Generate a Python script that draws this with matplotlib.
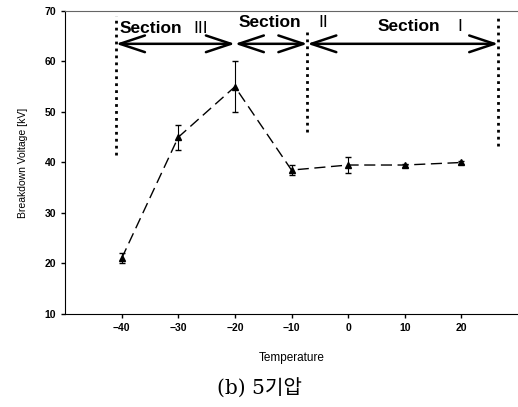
import numpy as np
import matplotlib.pyplot as plt

# temperatures and breakdown voltages
temps = [-40, -30, -20, -10, 0, 10, 20]
voltage = [21, 45, 55, 38.5, 39.5, 39.5, 40]
err = [1, 2.5, 5, 1, 1.5, 0.3, 0.3]

# section boundaries (temperature) and arrow level
bounds = [-41, -20, -7.2, 26.5]
arrow_y = 63.5
dot_ranges = [(41.5, 69), (46, 66), (43.3, 69)]
numerals = ["III", "II", "I"]
# label positions: (x of "Section", x of numeral, y)
label_pos = [(-40.4, -27.3, 66.6), (-19.4, -5.3, 67.8), (5.2, 19.3, 67.0)]

plt.rcParams['font.family'] = ['Liberation Sans', 'DejaVu Sans']

fig = plt.figure(figsize=(5.18, 4.07), dpi=100)
ax = fig.add_axes([0.1255, 0.2285, 0.8745, 0.7445])

ax.errorbar(temps, voltage, yerr=err, color='black', marker='^', markersize=5,
            linestyle=(0, (8, 4)), linewidth=1, capsize=2.5, elinewidth=0.8)

# dotted section borders
for x, (y0, y1) in zip([bounds[0], bounds[2], bounds[3]], dot_ranges):
    ax.plot([x, x], [y0, y1], color='black', linestyle=(0, (1, 1.5)), linewidth=2)

# double arrows for each section
for i in range(3):
    ax.annotate('', xy=(bounds[i + 1], arrow_y), xytext=(bounds[i], arrow_y),
                arrowprops=dict(arrowstyle='<->,head_length=1.8,head_width=0.6',
                                color='black', lw=1.8, mutation_scale=10,
                                shrinkA=0, shrinkB=0))

for num, (xs, xn, y) in zip(numerals, label_pos):
    ax.text(xs, y, "Section", fontsize=12.5, fontweight='bold', va='center')
    ax.text(xn, y, num, fontsize=12.5, va='center')

ax.set_xlim(-50, 30)
ax.set_ylim(10, 70)
ax.set_xticks(temps)
ax.set_yticks(range(10, 71, 10))
ax.tick_params(labelsize=7.5, length=3, width=1)
for lab in ax.get_xticklabels() + ax.get_yticklabels():
    lab.set_fontweight('bold')
ax.spines['right'].set_visible(False)
ax.spines['top'].set_color('0.4')

ax.set_xlabel("Temperature", fontsize=8.5, labelpad=14)
ax.set_ylabel("Breakdown Voltage [kV]", fontsize=7.5, labelpad=12)

fig.text(0.5, 0.045, "(b) 5기압", ha='center', va='center', fontsize=14.5,
         family=['DejaVu Serif', 'Noto Sans CJK KR'])

fig.savefig("out.png", dpi=100)
